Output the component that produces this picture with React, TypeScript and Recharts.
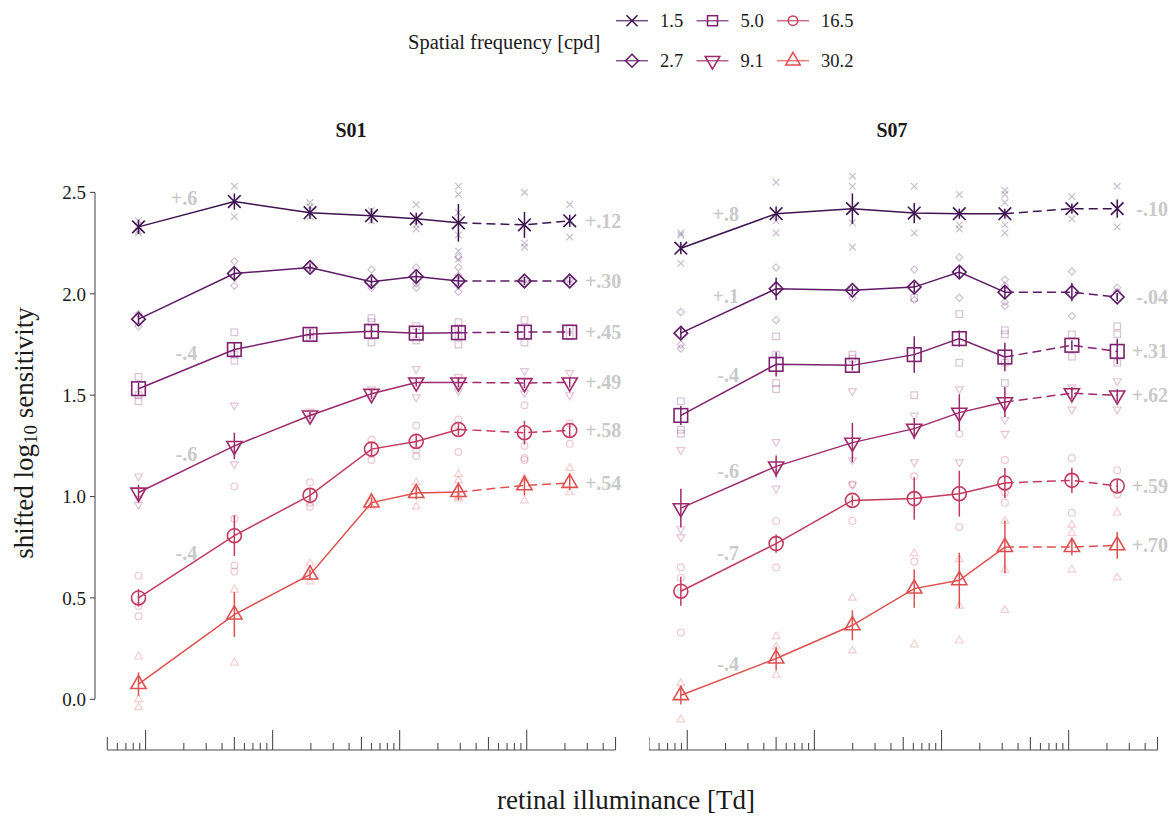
import React from 'react';
import { ComposedChart, Line, Scatter, XAxis, YAxis, ErrorBar, ReferenceLine } from 'recharts';

const FONT = "'Liberation Serif', 'Times New Roman', Times, serif";

// spatial frequencies [cpd], one series each
const FREQS = ['1.5', '2.7', '5.0', '9.1', '16.5', '30.2'];
const COLORS = ['#3d1350', '#5b1a63', '#7d206e', '#9e2a6c', '#c23a5e', '#de5050'];
const SHAPES = ['x', 'diamond', 'square', 'triDown', 'circle', 'triUp'];

const Y_TICKS = [0, 0.5, 1, 1.5, 2, 2.5];
const LOG_TICKS = [
  0.5, 0.6, 0.7, 0.8, 0.9,
  1, 2, 3, 4, 5, 6, 7, 8, 9,
  10, 20, 30, 40, 50, 60, 70, 80, 90,
  100, 200, 300, 400, 500, 600, 700, 800, 900,
  1000, 2000, 3000, 4000, 5000,
];
const Y_DOMAIN: [number, number] = [-0.25, 2.65];
// segments after this index are drawn dashed
const LAST_SOLID = 5;

// ---------- S01 ----------
const S01_X = [0.88, 5.0, 19.7, 60, 135, 290, 960, 2180];
const S01_MEAN = [
  [2.33, 2.455, 2.4, 2.385, 2.37, 2.35, 2.34, 2.36],
  [1.875, 2.1, 2.13, 2.06, 2.085, 2.063, 2.063, 2.063],
  [1.532, 1.725, 1.8, 1.815, 1.806, 1.808, 1.811, 1.811],
  [1.02, 1.25, 1.4, 1.507, 1.563, 1.563, 1.56, 1.563],
  [0.5, 0.807, 1.006, 1.234, 1.272, 1.331, 1.315, 1.326],
  [0.075, 0.418, 0.615, 0.97, 1.017, 1.022, 1.055, 1.067],
];
const S01_ERR = [
  [0.035, 0.04, 0.03, 0.037, 0.03, 0.093, 0.064, 0.03],
  [0.025, 0.027, 0.02, 0.025, 0.025, 0.025, 0.02, 0.02],
  [0.03, 0.035, 0.025, 0.03, 0.025, 0.03, 0.03, 0.02],
  [0.037, 0.065, 0.02, 0.025, 0.02, 0.025, 0.025, 0.025],
  [0.043, 0.1, 0.03, 0.03, 0.03, 0.03, 0.058, 0.037],
  [0.058, 0.111, 0.025, 0.025, 0.03, 0.04, 0.05, 0.035],
];
const S01_RAW = [
  [[2.36, 2.31, 2.3], [2.53, 2.38], [2.45, 2.43, 2.38], [2.41, 2.36], [2.44, 2.34, 2.32], [2.53, 2.49, 2.4, 2.29, 2.21, 2.17], [2.5, 2.25, 2.23], [2.44, 2.28]],
  [[1.9, 1.84], [2.16, 2.04], [2.14, 2.12], [2.12, 2.03], [2.13, 2.05, 2.03], [2.18, 2.13, 2.09, 2.04, 2.01], [2.07, 2.05], [2.07, 2.05]],
  [[1.59, 1.5, 1.47], [1.81, 1.7, 1.67], [1.81, 1.78], [1.88, 1.86, 1.76], [1.84, 1.77], [1.86, 1.83, 1.79, 1.75], [1.87, 1.76], [1.83, 1.79]],
  [[1.1, 0.99, 0.96], [1.45, 1.16], [1.42, 1.39], [1.53, 1.48], [1.63, 1.49], [1.59, 1.55, 1.52], [1.62, 1.51], [1.61, 1.5]],
  [[0.61, 0.46, 0.41], [1.05, 0.89, 0.66, 0.63], [1.07, 0.97, 0.95], [1.28, 1.21, 1.18], [1.35, 1.23, 1.2], [1.38, 1.35, 1.22], [1.45, 1.25, 1.19, 1.18], [1.36, 1.26]],
  [[0.21, 0.0, -0.04], [0.54, 0.18], [0.67, 0.58], [0.98, 0.95], [1.07, 0.95], [1.11, 1.08, 1.0, 0.99], [1.09, 0.98], [1.14, 1.02]],
];
const S01_SHIFT_LEFT = [
  { s: 0, text: '+.6', y: 2.47 },
  { s: 2, text: '-.4', y: 1.71 },
  { s: 3, text: '-.6', y: 1.21 },
  { s: 4, text: '-.4', y: 0.72 },
];
const S01_SHIFT_RIGHT = ['+.12', '+.30', '+.45', '+.49', '+.58', '+.54'];

// ---------- S07 ----------
const S07_X = [0.89, 5.0, 19.9, 61, 138, 315, 1060, 2410];
const S07_MEAN = [
  [2.225, 2.395, 2.42, 2.398, 2.395, 2.395, 2.42, 2.42],
  [1.806, 2.025, 2.017, 2.033, 2.107, 2.008, 2.008, 1.984],
  [1.4, 1.652, 1.647, 1.7, 1.779, 1.688, 1.746, 1.716],
  [0.943, 1.149, 1.266, 1.335, 1.414, 1.466, 1.51, 1.499],
  [0.533, 0.768, 0.981, 0.99, 1.014, 1.067, 1.08, 1.052],
  [0.02, 0.201, 0.365, 0.546, 0.587, 0.751, 0.751, 0.759],
];
const S07_ERR = [
  [0.03, 0.035, 0.075, 0.05, 0.025, 0.025, 0.025, 0.045],
  [0.025, 0.055, 0.02, 0.025, 0.03, 0.03, 0.045, 0.02],
  [0.047, 0.06, 0.025, 0.09, 0.04, 0.07, 0.025, 0.062],
  [0.096, 0.054, 0.097, 0.053, 0.09, 0.074, 0.03, 0.03],
  [0.072, 0.045, 0.025, 0.105, 0.113, 0.074, 0.062, 0.03],
  [0.045, 0.058, 0.074, 0.094, 0.136, 0.131, 0.04, 0.066],
];
const S07_RAW = [
  [[2.3, 2.29, 2.15], [2.55, 2.36, 2.3], [2.58, 2.53, 2.35, 2.23], [2.53, 2.3], [2.49, 2.34, 2.32], [2.51, 2.49, 2.45, 2.34, 2.3], [2.48, 2.37], [2.53, 2.33]],
  [[1.91, 1.75, 1.73], [2.13, 1.87], [1.98, 2.03], [2.12, 1.97], [2.18, 1.98], [2.07, 2.04, 1.96, 1.94], [2.11, 1.89], [2.03, 2.01]],
  [[1.47, 1.33, 1.31], [1.79, 1.7, 1.56, 1.53], [1.7, 1.68], [1.98, 1.5], [1.9, 1.66], [1.82, 1.8, 1.66, 1.56], [1.8, 1.69], [1.84, 1.8, 1.66]],
  [[1.23, 0.84, 0.8], [1.27, 1.04], [1.52, 1.18, 1.06], [1.4, 1.17], [1.53, 1.17], [1.38, 1.31], [1.54, 1.43], [1.57, 1.43]],
  [[0.65, 0.6, 0.33], [0.88, 0.65], [1.06, 0.88], [1.1, 0.68], [1.31, 0.85], [1.18, 1.02, 0.97], [1.19, 0.92], [1.13, 1.01]],
  [[0.08, -0.1], [0.31, 0.26, 0.12], [0.5, 0.24], [0.72, 0.27], [0.69, 0.46, 0.29], [0.88, 0.64, 0.44], [0.86, 0.82, 0.64], [0.92, 0.6]],
];
const S07_SHIFT_LEFT = [
  { s: 0, text: '+.8', y: 2.395 },
  { s: 1, text: '+.1', y: 1.987 },
  { s: 2, text: '-.4', y: 1.6 },
  { s: 3, text: '-.6', y: 1.126 },
  { s: 4, text: '-.7', y: 0.723 },
  { s: 5, text: '-.4', y: 0.176 },
];
const S07_SHIFT_RIGHT = ['-.10', '-.04', '+.31', '+.62', '+.59', '+.70'];

// marker half-sizes per shape
const MAIN_SIZE: Record<string, number> = { x: 6.3, diamond: 6.8, square: 6.8, circle: 7, triDown: 7.6, triUp: 7.6 };
const RAW_SIZE: Record<string, number> = { x: 3.3, diamond: 3.6, square: 3.3, circle: 3.4, triDown: 3.9, triUp: 3.9 };
const KEY_SIZE: Record<string, number> = { x: 5.5, diamond: 6.5, square: 5, circle: 4.7, triDown: 7.3, triUp: 7.3 };

function Marker({ kind, cx, cy, r, color, width, opacity = 1 }: any) {
  if (cx == null || cy == null) return null;
  const common = { fill: 'none', stroke: color, strokeWidth: width, strokeOpacity: opacity };
  switch (kind) {
    case 'x':
      return <path d={`M${cx - r},${cy - r}L${cx + r},${cy + r}M${cx - r},${cy + r}L${cx + r},${cy - r}`} {...common} />;
    case 'diamond':
      return <path d={`M${cx},${cy - r}L${cx + r},${cy}L${cx},${cy + r}L${cx - r},${cy}Z`} {...common} />;
    case 'square':
      return <rect x={cx - r} y={cy - r} width={2 * r} height={2 * r} {...common} />;
    case 'circle':
      return <circle cx={cx} cy={cy} r={r} {...common} />;
    case 'triUp': {
      const h = r * 1.732;
      return <path d={`M${cx},${cy - (2 * h) / 3}L${cx + r},${cy + h / 3}L${cx - r},${cy + h / 3}Z`} {...common} />;
    }
    case 'triDown': {
      const h = r * 1.732;
      return <path d={`M${cx},${cy + (2 * h) / 3}L${cx + r},${cy - h / 3}L${cx - r},${cy - h / 3}Z`} {...common} />;
    }
    default:
      return null;
  }
}

// log ticks drawn upward from the bottom edge: decades long, fives medium, others short
function LogTick(props: any) {
  const { x, y, payload } = props;
  const v = payload.value;
  const lead = Math.round(v / Math.pow(10, Math.floor(Math.log10(v) + 1e-9)));
  const len = lead === 1 ? 20 : lead === 5 ? 13 : 7;
  return <line x1={x} x2={x} y1={y} y2={y - len} stroke="#4d4d4d" strokeWidth={1.1} />;
}

function ShiftText(props: any) {
  const { cx, cy, payload } = props;
  if (cx == null || cy == null) return null;
  return (
    <text x={cx} y={cy} textAnchor="end" dominantBaseline="central" fontFamily={FONT}
      fontSize={20} fontWeight="bold" fill="#c9c9c9">
      {payload.text}
    </text>
  );
}

type PanelProps = {
  xs: number[];
  means: number[][];
  errs: number[][];
  raws: number[][][];
  shiftLeft: { s: number; text: string; y: number }[];
  shiftRight: string[];
  rightLabelX: number;
  domainX: [number, number];
  showY: boolean;
  left: number;
  width: number;
};

function Panel(p: PanelProps) {
  const rows = p.xs.map((x, i) => {
    const r: Record<string, number | null> = { x };
    p.means.forEach((m, s) => {
      r['s' + s] = i <= LAST_SOLID ? m[i] : null;
      r['d' + s] = i >= LAST_SOLID ? m[i] : null;
    });
    return r;
  });
  const points = p.means.map((m, s) => m.map((y, i) => ({ x: p.xs[i], y, e: p.errs[s][i] })));
  const raws = p.raws.map((series) => series.flatMap((vals, i) => vals.map((y) => ({ x: p.xs[i], y }))));
  const leftText = p.shiftLeft.map((d) => ({ x: 2.55, y: d.y, text: d.text }));
  const rightText = p.shiftRight.map((t, s) => ({ x: p.rightLabelX, y: p.means[s][p.means[s].length - 1], text: t }));

  return (
    <div style={{ position: 'absolute', left: p.left, top: 0 }}>
      <ComposedChart width={p.width} height={816} data={rows} margin={{ top: 162, right: 0, bottom: 0, left: 0 }}>
        <XAxis type="number" dataKey="x" scale="log" domain={p.domainX} allowDataOverflow ticks={LOG_TICKS}
          interval={0} tick={LogTick} tickLine={false} axisLine={false} tickSize={0} tickMargin={0} height={66} />
        <YAxis type="number" domain={Y_DOMAIN} allowDataOverflow ticks={Y_TICKS} hide={!p.showY} width={95}
          axisLine={false} tickLine={{ stroke: '#4d4d4d', strokeWidth: 1.1 }} tickSize={5} tickMargin={4}
          tickFormatter={(v: number) => v.toFixed(1)}
          tick={{ fontSize: 19, fill: '#1a1a1a', fontFamily: FONT }} />
        {p.showY && (
          <ReferenceLine ifOverflow="visible" stroke="#4d4d4d" strokeWidth={1.1}
            segment={[{ x: p.domainX[0], y: 0 }, { x: p.domainX[0], y: 2.5 }]} />
        )}
        <ReferenceLine ifOverflow="visible" stroke="#4d4d4d" strokeWidth={1.1}
          segment={[{ x: LOG_TICKS[0], y: Y_DOMAIN[0] }, { x: LOG_TICKS[LOG_TICKS.length - 1], y: Y_DOMAIN[0] }]} />

        {raws.map((data, s) => (
          <Scatter key={'r' + s} data={data} dataKey="y" isAnimationActive={false}
            shape={(pr: any) => (
              <Marker kind={SHAPES[s]} cx={pr.cx} cy={pr.cy} r={RAW_SIZE[SHAPES[s]]} color={COLORS[s]} width={1.2} opacity={0.28} />
            )} />
        ))}

        {FREQS.map((f, s) => (
          <Line key={'s' + s} dataKey={'s' + s} stroke={COLORS[s]} strokeWidth={1.5} dot={false} activeDot={false}
            isAnimationActive={false} connectNulls={false} />
        ))}
        {FREQS.map((f, s) => (
          <Line key={'d' + s} dataKey={'d' + s} stroke={COLORS[s]} strokeWidth={1.5} strokeDasharray="9 5" dot={false}
            activeDot={false} isAnimationActive={false} connectNulls={false} />
        ))}

        {points.map((data, s) => (
          <Scatter key={'m' + s} data={data} dataKey="y" isAnimationActive={false}
            shape={(pr: any) => (
              <Marker kind={SHAPES[s]} cx={pr.cx} cy={pr.cy} r={MAIN_SIZE[SHAPES[s]]} color={COLORS[s]} width={1.6} />
            )}>
            <ErrorBar dataKey="e" direction="y" width={0} stroke={COLORS[s]} strokeWidth={1.5} />
          </Scatter>
        ))}

        <Scatter data={leftText} dataKey="y" isAnimationActive={false} shape={ShiftText} />
        <Scatter data={rightText} dataKey="y" isAnimationActive={false} shape={ShiftText} />
      </ComposedChart>
    </div>
  );
}

function Decorations() {
  return (
    <svg width={1175} height={816} style={{ position: 'absolute', left: 0, top: 0, pointerEvents: 'none' }}>
      <g fontFamily={FONT} fill="#1a1a1a">
        <text x={408} y={42} fontSize={20.5} dominantBaseline="central">Spatial frequency [cpd]</text>
        {FREQS.map((f, i) => {
          const col = Math.floor(i / 2);
          const row = i % 2;
          const x0 = 616 + col * 80.5;
          const y = row === 0 ? 20.7 : 60.7;
          return (
            <g key={f}>
              <line x1={x0} x2={x0 + 32} y1={y} y2={y} stroke={COLORS[i]} strokeWidth={1.5} strokeOpacity={0.75} />
              <Marker kind={SHAPES[i]} cx={x0 + 16} cy={y} r={KEY_SIZE[SHAPES[i]]} color={COLORS[i]} width={1.5} />
              <text x={x0 + 44} y={y} fontSize={18.5} dominantBaseline="central">{f}</text>
            </g>
          );
        })}
        <text x={351} y={130} fontSize={20} fontWeight="bold" textAnchor="middle" dominantBaseline="central">S01</text>
        <text x={892} y={130} fontSize={20} fontWeight="bold" textAnchor="middle" dominantBaseline="central">S07</text>
        <text x={626} y={800} fontSize={27} textAnchor="middle" dominantBaseline="central">retinal illuminance [Td]</text>
        <text transform="rotate(-90, 24, 433)" x={24} y={433} fontSize={27} textAnchor="middle" dominantBaseline="central">
          shifted log<tspan fontSize={19} dy={6}>10</tspan><tspan dy={-6}> sensitivity</tspan>
        </text>
      </g>
    </svg>
  );
}

export default function App() {
  return (
    <div style={{ position: 'absolute', left: 0, top: 0, width: 1175, height: 816, background: '#ffffff', overflow: 'hidden' }}>
      <Panel xs={S01_X} means={S01_MEAN} errs={S01_ERR} raws={S01_RAW} shiftLeft={S01_SHIFT_LEFT}
        shiftRight={S01_SHIFT_RIGHT} rightLabelX={5550} domainX={[0.4, 6500]} showY left={0} width={630} />
      <Panel xs={S07_X} means={S07_MEAN} errs={S07_ERR} raws={S07_RAW} shiftLeft={S07_SHIFT_LEFT}
        shiftRight={S07_SHIFT_RIGHT} rightLabelX={6050} domainX={[0.5, 6500]} showY={false} left={648.5} width={523} />
      <Decorations />
    </div>
  );
}
